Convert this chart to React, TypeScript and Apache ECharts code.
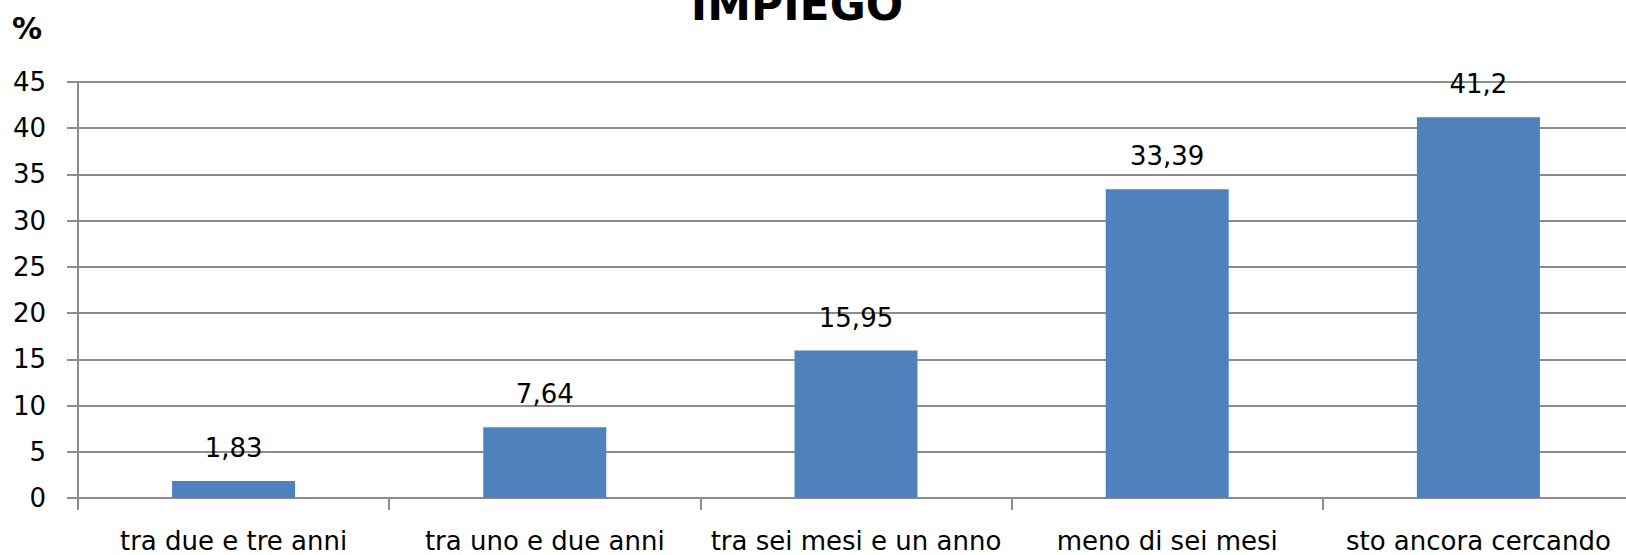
import React, { useEffect, useRef } from "react";
import * as echarts from "echarts";

const categories = [
  "tra due e tre anni",
  "tra uno e due anni",
  "tra sei mesi e un anno",
  "meno di sei mesi",
  "sto ancora cercando",
];
const values = [1.83, 7.64, 15.95, 33.39, 41.2];
const valueLabels = ["1,83", "7,64", "15,95", "33,39", "41,2"];
const titleText = "IMPIEGO";
const unitText = "%";

export default function App() {
  const ref = useRef<HTMLDivElement>(null);
  useEffect(() => {
    document.body.style.margin = "0";
    document.body.style.overflow = "hidden";
    if (!ref.current) return;
    const chart = echarts.init(ref.current, null, { renderer: "svg" });
    const font = "DejaVu Sans";
    chart.setOption({
      animation: false,
      backgroundColor: "#ffffff",
      grid: { left: 78, top: 82, right: 6, height: 416, containLabel: false },
      graphic: [
        {
          type: "text",
          x: 797,
          y: 4,
          style: {
            text: titleText,
            fontFamily: font,
            fontWeight: "bold",
            fontSize: 44,
            fill: "#000000",
            textAlign: "center",
            textVerticalAlign: "middle",
          },
        },
        {
          type: "text",
          x: 12,
          y: 28,
          style: {
            text: unitText,
            fontFamily: font,
            fontWeight: "bold",
            fontSize: 30,
            fill: "#000000",
            textAlign: "left",
            textVerticalAlign: "middle",
          },
        },
      ],
      xAxis: {
        type: "category",
        data: categories,
        axisLine: { show: true, lineStyle: { color: "#8c8c8c", width: 2 } },
        axisTick: { show: true, alignWithLabel: false, length: 12, lineStyle: { color: "#8c8c8c", width: 2 } },
        axisLabel: { color: "#000000", fontFamily: font, fontSize: 26, margin: 30, interval: 0 },
        splitLine: { show: false },
      },
      yAxis: {
        type: "value",
        min: 0,
        max: 45,
        interval: 5,
        axisLine: { show: true, lineStyle: { color: "#8c8c8c", width: 2 } },
        axisTick: { show: true, length: 11, lineStyle: { color: "#8c8c8c", width: 2 } },
        axisLabel: { color: "#000000", fontFamily: font, fontSize: 26, margin: 32 },
        splitLine: { show: true, lineStyle: { color: "#8c8c8c", width: 2 } },
      },
      series: [
        {
          type: "bar",
          data: values,
          barWidth: 123,
          itemStyle: { color: "#4f81bd" },
          label: {
            show: true,
            position: "top",
            distance: 20,
            color: "#000000",
            fontFamily: font,
            fontSize: 26,
            formatter: (p: any) => valueLabels[p.dataIndex],
          },
        },
      ],
    });
    return () => chart.dispose();
  }, []);
  return <div ref={ref} style={{ width: 1640, height: 555 }} />;
}
